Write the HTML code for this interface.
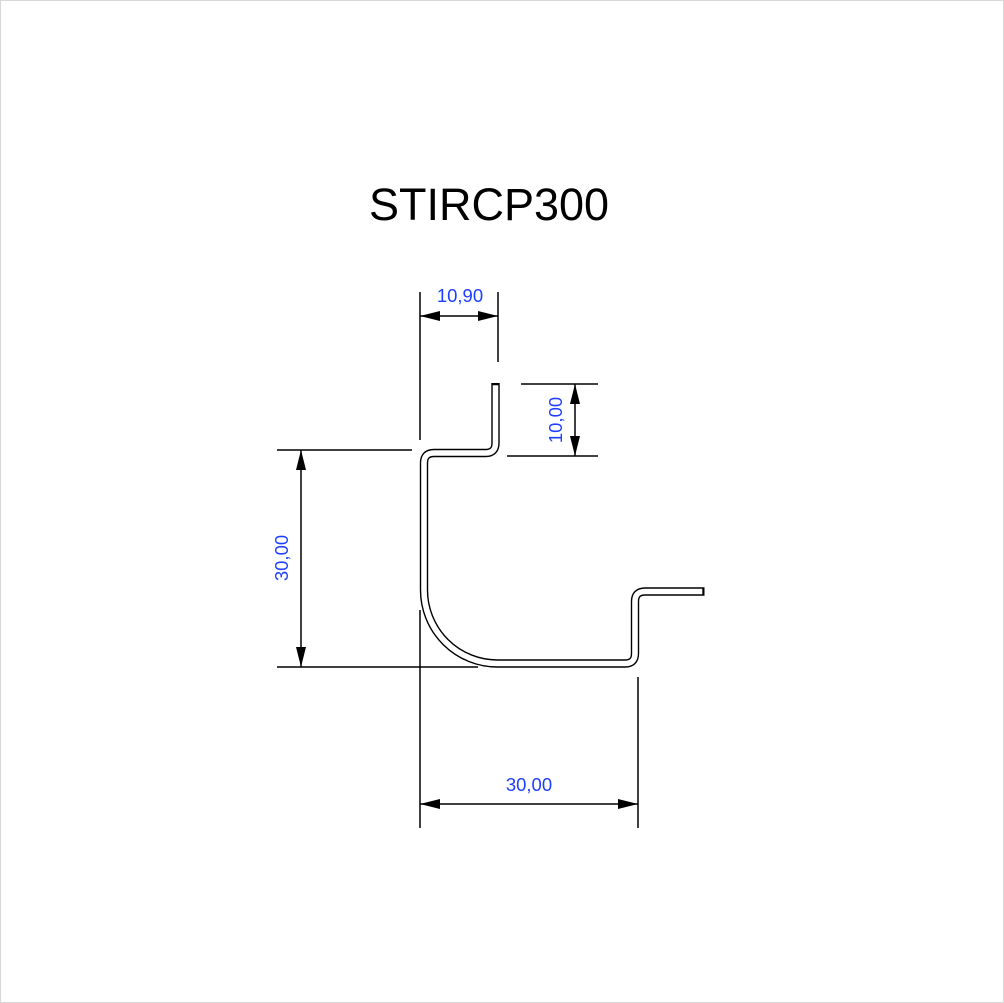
<!DOCTYPE html>
<html><head><style>
html,body{margin:0;padding:0;background:#fff;}
svg{display:block;}
</style></head><body>
<svg width="1004" height="1003" viewBox="0 0 1004 1003" xmlns="http://www.w3.org/2000/svg">
<rect x="0.5" y="0.5" width="1003" height="1002" fill="#fff" stroke="#d8d8d8"/>
<text x="489" y="220" font-family="Liberation Sans, sans-serif" font-size="45" text-anchor="middle" fill="#000">STIRCP300</text>
<path d="M495.5,383 V443 Q495.5,453 485.5,453 H434 Q424,453 424,463 V590 A73.5,73.5 0 0 0 497.5,663.5 H625 Q635,663.5 635,653.5 V601.5 Q635,591.5 645,591.5 H704.5" fill="none" stroke="#000" stroke-width="8.4"/>
<path d="M495.5,385.2 V443 Q495.5,453 485.5,453 H434 Q424,453 424,463 V590 A73.5,73.5 0 0 0 497.5,663.5 H625 Q635,663.5 635,653.5 V601.5 Q635,591.5 645,591.5 H702.3" fill="none" stroke="#fff" stroke-width="5.6"/>
<g stroke="#000" stroke-width="1.5" fill="none">
<line x1="420" y1="292" x2="420" y2="440"/>
<line x1="498" y1="292" x2="498" y2="362"/>
<line x1="420" y1="316" x2="498" y2="316"/>
<line x1="521" y1="384" x2="598" y2="384"/>
<line x1="507" y1="456" x2="598" y2="456"/>
<line x1="575" y1="384" x2="575" y2="456"/>
<line x1="277" y1="450" x2="412" y2="450"/>
<line x1="277" y1="667" x2="478" y2="667"/>
<line x1="301" y1="450" x2="301" y2="667"/>
<line x1="420" y1="610" x2="420" y2="828"/>
<line x1="638" y1="677" x2="638" y2="828"/>
<line x1="420" y1="804" x2="638" y2="804"/>
</g>
<g fill="#000">
<polygon points="420,316 440,311 440,321"/>
<polygon points="498,316 478,311 478,321"/>
<polygon points="575,384 570,404 580,404"/>
<polygon points="575,456 570,436 580,436"/>
<polygon points="301,450 296,470 306,470"/>
<polygon points="301,667 296,647 306,647"/>
<polygon points="420,804 440,799 440,809"/>
<polygon points="638,804 618,799 618,809"/>
</g>
<g font-family="Liberation Sans, sans-serif" font-size="18.5" fill="#1f3fff" text-anchor="middle">
<text x="460" y="302">10,90</text>
<text x="529" y="791">30,00</text>
<text transform="translate(562,420) rotate(-90)">10,00</text>
<text transform="translate(288,558) rotate(-90)">30,00</text>
</g>
</svg>
</body></html>
